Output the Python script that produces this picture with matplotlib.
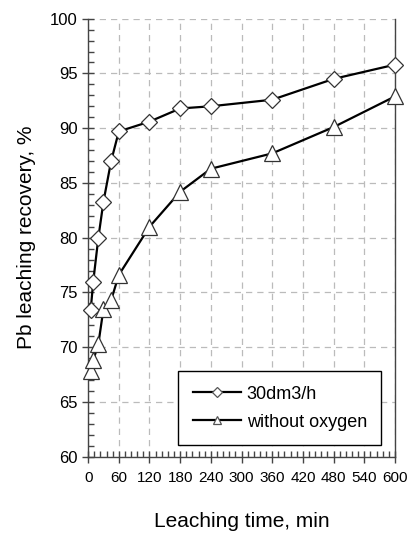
import matplotlib.pyplot as plt
from matplotlib.ticker import MultipleLocator

plt.rcParams['font.family'] = ['Liberation Sans', 'DejaVu Sans']

# leaching time, min
time_min = [5, 10, 20, 30, 45, 60, 120, 180, 240, 360, 480, 600]
# Pb leaching recovery, %
rec_oxygen = [73.4, 76.0, 80.0, 83.3, 87.0, 89.7, 90.6, 91.8, 92.0, 92.6, 94.5, 95.8]
rec_no_oxygen = [67.8, 68.8, 70.3, 73.5, 74.3, 76.6, 81.0, 84.2, 86.3, 87.7, 90.1, 92.9]

fig = plt.figure(figsize=(4.08, 5.33), dpi=100)
ax = fig.add_axes([0.216, 0.143, 0.752, 0.822])

ax.plot(time_min, rec_oxygen, color='black', lw=1.6, marker='D', ms=8,
        mfc='white', mec='#333333', mew=0.9, label='30dm3/h', zorder=3,
        clip_on=False)
ax.plot(time_min, rec_no_oxygen, color='black', lw=1.6, marker='^', ms=11,
        mfc='white', mec='#333333', mew=0.9, label='without oxygen', zorder=3,
        clip_on=False)

ax.set_xlim(0, 600)
ax.set_ylim(60, 100)
ax.xaxis.set_major_locator(MultipleLocator(60))
ax.xaxis.set_minor_locator(MultipleLocator(12))
ax.yaxis.set_major_locator(MultipleLocator(5))
ax.yaxis.set_minor_locator(MultipleLocator(1))

ax.grid(True, which='major', color='#bbbbbb', linestyle=(0, (5, 4)), lw=0.9)
ax.set_axisbelow(True)

for side in ['left', 'bottom', 'right']:
    ax.spines[side].set_color('#444444')
    ax.spines[side].set_linewidth(1.0)
ax.spines['top'].set_visible(False)

ax.tick_params(axis='both', which='major', direction='inout', length=8,
               width=1, color='#444444', labelsize=12)
ax.tick_params(axis='both', which='minor', direction='in', length=4,
               width=1, color='#444444')
ax.tick_params(axis='x', labelsize=11, pad=6)

ax.set_xlabel('Leaching time, min', fontsize=15, labelpad=20)
ax.set_ylabel('Pb leaching recovery, %', fontsize=15, labelpad=10)

leg = ax.legend(loc='lower right', bbox_to_anchor=(0.956, 0.027), fontsize=13,
                handlelength=2.7, fancybox=False, framealpha=1,
                edgecolor='black', borderpad=0.8, labelspacing=0.6,
                handletextpad=0.3, borderaxespad=0)
leg.get_frame().set_linewidth(1.0)
for h in leg.legend_handles:
    h.set_markersize(5.5)
    h.set_markeredgecolor('#555555')

fig.savefig('out.png', dpi=100)
